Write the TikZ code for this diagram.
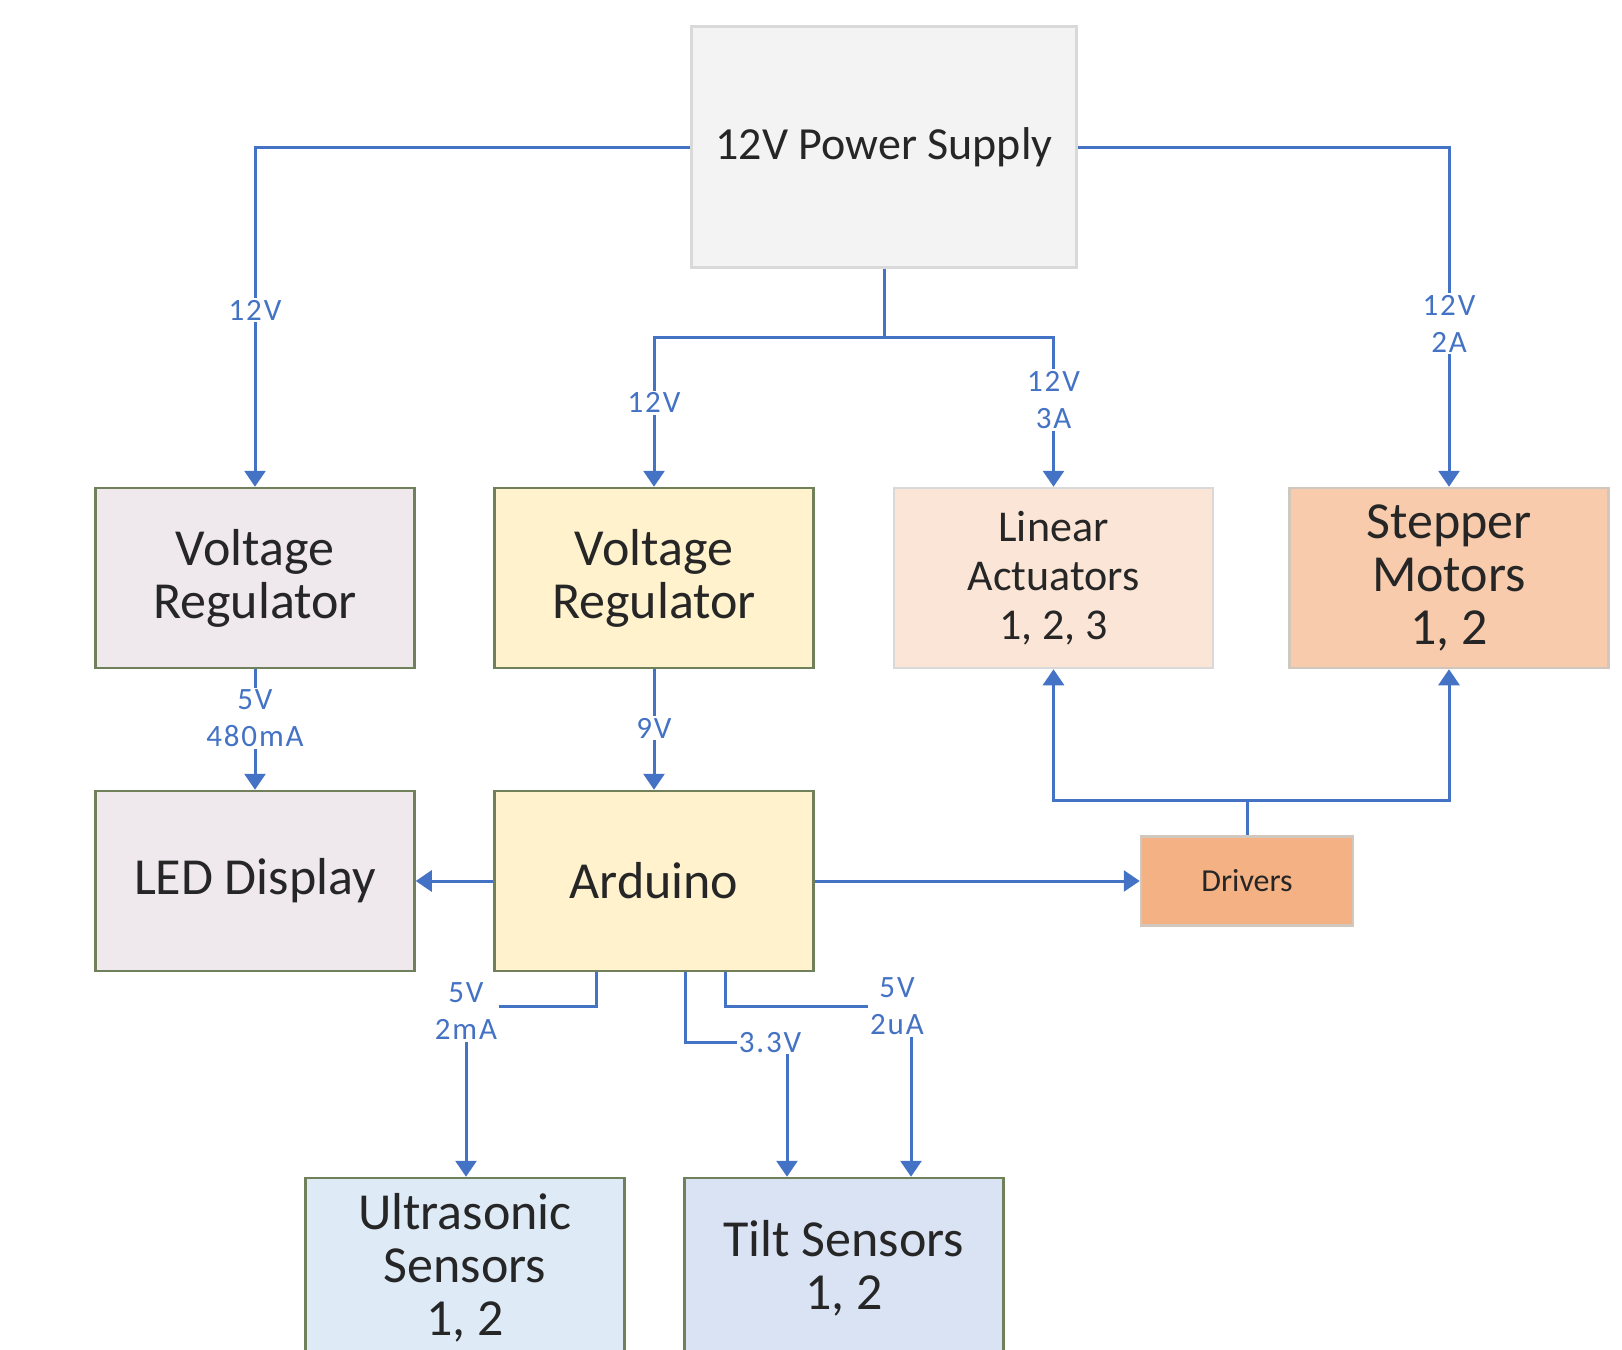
\documentclass[tikz,border=0pt]{standalone}
\usepackage{fontspec}
\setmainfont{Carlito}
\newfontfamily\lblfont[LetterSpace=6]{Carlito}
\usetikzlibrary{arrows.meta}

\definecolor{wirecol}{RGB}{68,114,196}
\definecolor{boxtext}{RGB}{38,38,38}
\definecolor{greenedge}{RGB}{112,128,90}
\definecolor{greyedge}{RGB}{217,217,217}
\definecolor{tanedge}{RGB}{208,200,190}
\definecolor{psfill}{RGB}{243,243,243}
\definecolor{regfill}{RGB}{239,233,238}
\definecolor{ardfill}{RGB}{255,242,204}
\definecolor{linfill}{RGB}{251,229,214}
\definecolor{stpfill}{RGB}{248,203,173}
\definecolor{drvfill}{RGB}{244,177,131}
\definecolor{ulsfill}{RGB}{222,235,247}
\definecolor{tltfill}{RGB}{218,227,243}

\begin{document}
\begin{tikzpicture}[x=1pt,y=-1pt,
  box/.style={draw=greenedge, line width=2.5pt, minimum width=319pt, minimum height=180pt,
    align=center, inner sep=0pt, text=boxtext, font=\fontsize{52}{53}\selectfont},
  wire/.style={draw=wirecol, line width=3pt},
  feed/.style={wire, -{Triangle[width=21pt,length=16pt]}},
  lbl/.style={fill=white, text=wirecol, align=center, inner sep=2pt,
    font=\lblfont\fontsize{31}{37}\selectfont}]

\useasboundingbox (0,0) rectangle (1622,1349);
\clip (0,0) rectangle (1622,1349);

% Supply at the top
\node[box, draw=greyedge, fill=psfill, minimum width=385pt, minimum height=241pt,
  font=\fontsize{46}{50}\selectfont] (ps) at (884,147) {12V Power Supply};
% Regulators and loads
\node[box, fill=regfill] (vr1) at (255,578) {Voltage\\Regulator};
\node[box, fill=ardfill] (vr2) at (654,578) {Voltage\\Regulator};
\node[box, draw=greyedge, fill=linfill, font=\fontsize{44}{49}\selectfont] (lin) at (1053.5,578) {Linear\\Actuators\\1, 2, 3};
\node[box, draw=tanedge, fill=stpfill] (stp) at (1449,578) {Stepper\\Motors\\1, 2};
% Controller row
\node[box, fill=regfill] (led) at (255,881) {LED Display};
\node[box, fill=ardfill] (ard) at (654,881) {Arduino};
\node[box, draw=tanedge, fill=drvfill, minimum width=212pt, minimum height=89pt,
  font=\fontsize{32}{36}\selectfont] (drv) at (1247,881) {Drivers};
% Sensors, cut by the page edge
\node[box, fill=ulsfill] (uls) at (465,1268) {Ultrasonic\\Sensors\\1, 2};
\node[box, fill=tltfill] (tlt) at (844,1268) {Tilt Sensors\\1, 2};

% 12V rails
\draw[feed] (ps.west) -| (vr1.north) node[lbl, pos=0.74] {12V};
\draw[feed] (ps.east) -| (stp.north) node[lbl, pos=0.76] {12V\\2A};
\coordinate (psplit) at (884,337);
\draw[wire] (ps.south) -- (psplit);
\draw[feed] (psplit) -| (vr2.north) node[lbl, pos=0.72] {12V};
\draw[feed] (psplit) -| (lin.north) node[lbl, pos=0.71] {12V\\3A};
% Regulated outputs
\draw[feed] (vr1.south) -- (led.north) node[lbl, pos=0.41] {5V\\480mA};
\draw[feed] (vr2.south) -- (ard.north) node[lbl, pos=0.49] {9V};
% Arduino outputs
\draw[feed] (ard.west) -- (led.east);
\draw[feed] (ard.east) -- (drv.west);
\coordinate (dsplit) at (1247,800);
\draw[wire] (drv.north) -- (dsplit);
\draw[feed] (dsplit) -| (lin.south);
\draw[feed] (dsplit) -| (stp.south);
% Sensor lines
\draw[feed] ([xshift=-57.5pt]ard.south) -- ++(0,34) -| ([xshift=1pt]uls.north)
  node[lbl, pos=0.5, yshift=-5pt] {5V\\2mA};
\draw[feed] ([xshift=31.5pt]ard.south) -- ++(0,70) -| ([xshift=-57pt]tlt.north)
  node[lbl, pos=0.5, xshift=-17pt] {3.3V};
\draw[feed] ([xshift=71.5pt]ard.south) -- ++(0,34) -| ([xshift=67pt]tlt.north)
  node[lbl, pos=0.5, xshift=-14pt] {5V\\2uA};

\end{tikzpicture}
\end{document}
